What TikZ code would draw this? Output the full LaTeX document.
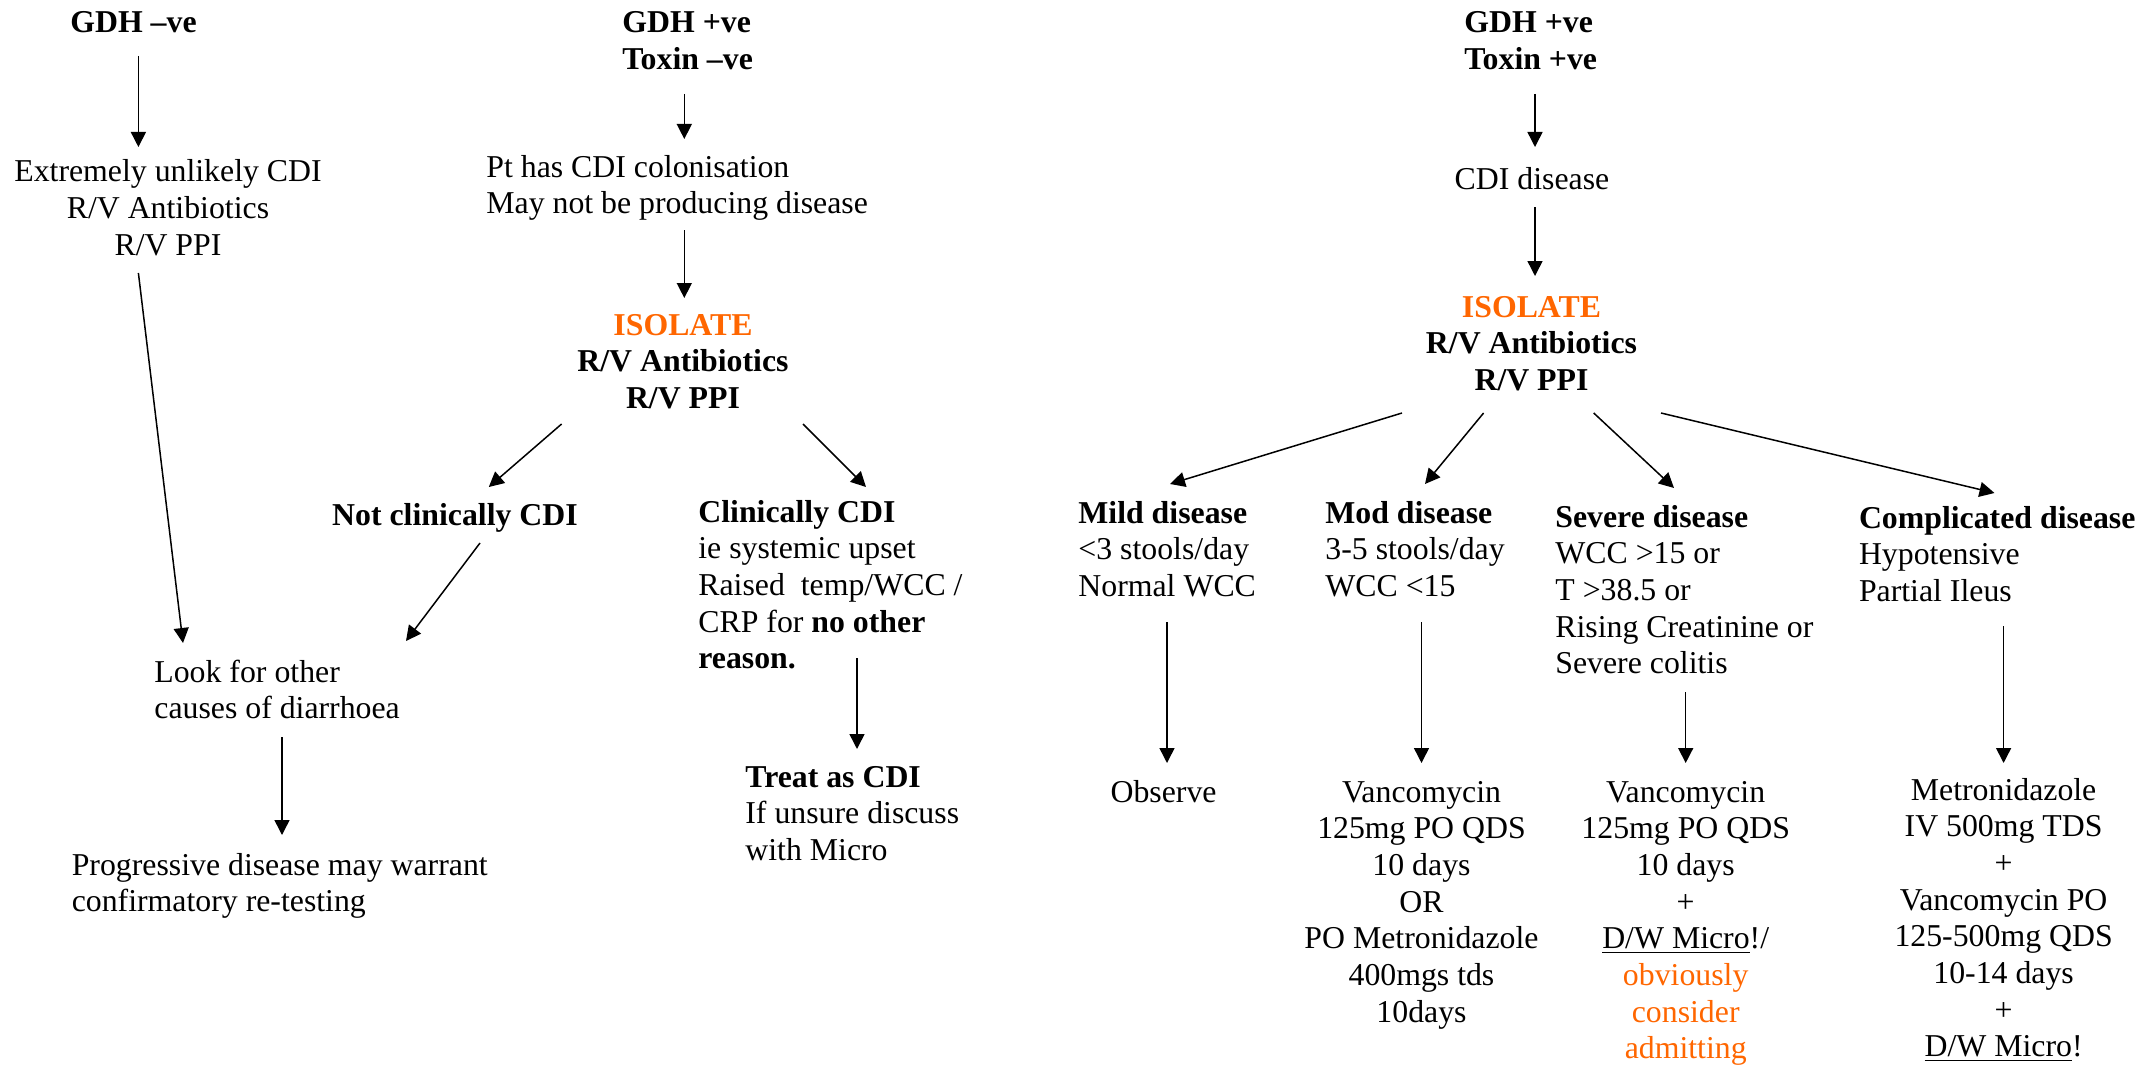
\documentclass[tikz,border=0pt]{standalone}
\usepackage{fontspec}
\setmainfont{Liberation Serif}
\usetikzlibrary{arrows.meta}
\definecolor{orng}{RGB}{255,102,0}
\newcommand{\cblk}[1]{\begin{tabular}[t]{@{}c@{}}#1\end{tabular}}
\newcommand{\lblk}[1]{\begin{tabular}[t]{@{}l@{}}#1\end{tabular}}
\begin{document}
\begin{tikzpicture}[x=0.5pt,y=-0.5pt,
  txt/.style={inner sep=0pt, font=\fontsize{15.9}{18.35}\selectfont},
  bold/.style={inner sep=0pt, font=\fontsize{15.9}{18.35}\selectfont\bfseries},
  arr/.style={-{Triangle[length=7.5pt,width=7.5pt]}, line width=0.75pt}]
\useasboundingbox (0,0) rectangle (2143,1065);
% left column
\node[bold, anchor=base] (n1) at (133.5,33) {GDH –ve};
\node[txt, anchor=base] (n2) at (168,182) {\cblk{Extremely unlikely CDI\\R/V Antibiotics\\R/V PPI}};
\node[txt, anchor=base west] (n3) at (154,682) {\lblk{Look for other\\causes of diarrhoea}};
\node[txt, anchor=base west] (n4) at (71.4,875) {\lblk{Progressive disease may warrant\\confirmatory re-testing}};
% middle column
\node[bold, anchor=base west] (m1) at (622,33) {\lblk{GDH +ve\\Toxin –ve}};
\node[txt, anchor=base west] (m2) at (486,177) {\lblk{Pt has CDI colonisation\\May not be producing disease}};
\node[bold, anchor=base] (m3) at (683,335) {\cblk{\textcolor{orng}{ISOLATE}\\R/V Antibiotics\\R/V PPI}};
\node[bold, anchor=base] (m4) at (455,525) {Not clinically CDI};
\node[txt, anchor=base west] (m5) at (698,522) {\lblk{\textbf{Clinically CDI}\\ie systemic upset\\Raised\ \ temp/WCC /\\CRP for \textbf{no other}\\\textbf{reason.}}};
\node[txt, anchor=base west] (m6) at (745,787) {\lblk{\textbf{Treat as CDI}\\If unsure discuss\\with Micro}};
% right part
\node[bold, anchor=base west] (r1) at (1464,33) {\lblk{GDH +ve\\Toxin +ve}};
\node[txt, anchor=base] (r2) at (1532,190) {CDI disease};
\node[bold, anchor=base] (r3) at (1531.5,317) {\cblk{\textcolor{orng}{ISOLATE}\\R/V Antibiotics\\R/V PPI}};
\node[txt, anchor=base west] (r4) at (1078,523) {\lblk{\textbf{Mild disease}\\<3 stools/day\\Normal WCC}};
\node[txt, anchor=base west] (r5) at (1325,523) {\lblk{\textbf{Mod disease}\\3-5 stools/day\\WCC <15}};
\node[txt, anchor=base west] (r6) at (1555,527) {\lblk{\textbf{Severe disease}\\WCC >15 or\\T >38.5 or\\Rising Creatinine or\\Severe colitis}};
\node[txt, anchor=base west] (r7) at (1858.6,528) {\lblk{\textbf{Complicated disease}\\Hypotensive\\Partial Ileus}};
\node[txt, anchor=base] (r8) at (1163.6,802) {Observe};
\node[txt, anchor=base] (r9) at (1421.5,802) {\cblk{Vancomycin\\125mg PO QDS\\10 days\\OR\\PO Metronidazole\\400mgs tds\\10days}};
\node[txt, anchor=base] (r10) at (1685.7,802) {\cblk{Vancomycin\\125mg PO QDS\\10 days\\+\\\underline{D/W Micro}!/\\\textcolor{orng}{obviously}\\\textcolor{orng}{consider}\\\textcolor{orng}{admitting}}};
\node[txt, anchor=base] (r11) at (2003.6,800) {\cblk{Metronidazole\\IV 500mg TDS\\+\\Vancomycin PO\\125-500mg QDS\\10-14 days\\+\\\underline{D/W Micro}!}};
% connectors
\draw[arr] ([shift={(4.9,23)}]n1.base) -- ([shift={(-29.6,-35)}]n2.base);
\draw[arr] ([shift={(-29.6,91)}]n2.base) -- ([shift={(29,-39)}]n3.base west);
\draw[arr] ([shift={(-121.4,89)}]m3.base) -- ([shift={(33.8,-38)}]m4.base);
\draw[arr] ([shift={(25,18)}]m4.base) -- ([shift={(252,-41)}]n3.base west);
\draw[arr] ([shift={(128,55)}]n3.base west) -- ([shift={(210.6,-40)}]n4.base west);
\draw[arr] ([shift={(62.3,61)}]m1.base west) -- ([shift={(198.3,-38)}]m2.base west);
\draw[arr] ([shift={(198.3,53)}]m2.base west) -- ([shift={(1.3,-37)}]m3.base);
\draw[arr] ([shift={(120,89)}]m3.base) -- ([shift={(168,-35)}]m5.base west);
\draw[arr] ([shift={(159,136)}]m5.base west) -- ([shift={(112,-38)}]m6.base west);
\draw[arr] ([shift={(71,61)}]r1.base west) -- ([shift={(3,-43)}]r2.base);
\draw[arr] ([shift={(3,17)}]r2.base) -- ([shift={(3.5,-41)}]r3.base);
\draw[arr] ([shift={(-129.5,96)}]r3.base) -- ([shift={(92,-39)}]r4.base west);
\draw[arr] ([shift={(-47.9,96)}]r3.base) -- ([shift={(100,-39)}]r5.base west);
\draw[arr] ([shift={(62.2,96)}]r3.base) -- ([shift={(119,-39)}]r6.base west);
\draw[arr] ([shift={(129.5,96)}]r3.base) -- ([shift={(135.9,-35)}]r7.base west);
\draw[arr] ([shift={(89,99)}]r4.base west) -- ([shift={(3.4,-39)}]r8.base);
\draw[arr] ([shift={(96.5,99)}]r5.base west) -- ([shift={(0,-39)}]r9.base);
\draw[arr] ([shift={(130.7,165)}]r6.base west) -- ([shift={(0,-39)}]r10.base);
\draw[arr] ([shift={(145,98)}]r7.base west) -- ([shift={(0,-37)}]r11.base);
\end{tikzpicture}
\end{document}
